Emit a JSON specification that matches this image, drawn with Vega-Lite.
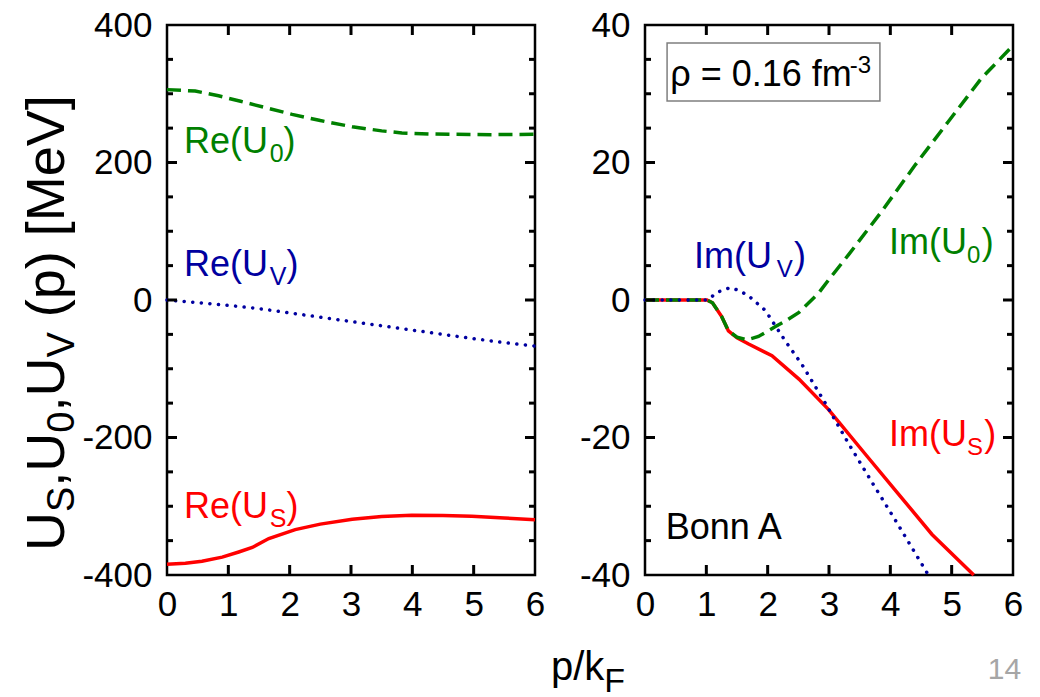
{
  "$schema": "https://vega.github.io/schema/vega-lite/v6.json",
  "background": "white",
  "autosize": {"type": "pad"},
  "padding": {"left": 19, "top": 6, "right": 5, "bottom": 5},
  "config": {
    "view": {"stroke": "black", "strokeWidth": 2.5},
    "font": "Liberation Sans",
    "axis": {
      "domain": false,
      "grid": false,
      "ticks": false,
      "tickSize": 0,
      "labelColor": "black",
      "labelFont": "Liberation Sans",
      "labelFontSize": 35,
      "labelFlush": false,
      "labelExpr": "datum.value",
      "title": null
    }
  },
  "datasets": {
    "re": [
      {"s": "US", "p": 0, "u": -384.5}, {"s": "US", "p": 0.3, "u": -383}, {"s": "US", "p": 0.57, "u": -380},
      {"s": "US", "p": 0.9, "u": -374}, {"s": "US", "p": 1.17, "u": -366.5}, {"s": "US", "p": 1.39, "u": -360},
      {"s": "US", "p": 1.66, "u": -347}, {"s": "US", "p": 2.09, "u": -334}, {"s": "US", "p": 2.5, "u": -326},
      {"s": "US", "p": 3.02, "u": -319}, {"s": "US", "p": 3.5, "u": -315}, {"s": "US", "p": 3.99, "u": -313},
      {"s": "US", "p": 4.5, "u": -313.5}, {"s": "US", "p": 4.97, "u": -314.5}, {"s": "US", "p": 5.5, "u": -317},
      {"s": "US", "p": 6, "u": -319.5},
      {"s": "U0", "p": 0, "u": 306}, {"s": "U0", "p": 0.46, "u": 304}, {"s": "U0", "p": 0.84, "u": 297},
      {"s": "U0", "p": 1.2, "u": 289}, {"s": "U0", "p": 1.6, "u": 280}, {"s": "U0", "p": 2.04, "u": 270},
      {"s": "U0", "p": 2.5, "u": 261}, {"s": "U0", "p": 3.02, "u": 252}, {"s": "U0", "p": 3.5, "u": 246},
      {"s": "U0", "p": 3.83, "u": 243}, {"s": "U0", "p": 4.3, "u": 241.5}, {"s": "U0", "p": 4.65, "u": 241},
      {"s": "U0", "p": 5.3, "u": 240.5}, {"s": "U0", "p": 6, "u": 241},
      {"s": "UV", "p": 0, "u": 0}, {"s": "UV", "p": 0.5, "u": -3.8}, {"s": "UV", "p": 1, "u": -7.8},
      {"s": "UV", "p": 1.5, "u": -12.5}, {"s": "UV", "p": 2, "u": -18.8}, {"s": "UV", "p": 2.5, "u": -25},
      {"s": "UV", "p": 3, "u": -31.3}, {"s": "UV", "p": 3.5, "u": -37.5}, {"s": "UV", "p": 4, "u": -43.8},
      {"s": "UV", "p": 4.5, "u": -50}, {"s": "UV", "p": 5, "u": -56.3}, {"s": "UV", "p": 5.5, "u": -62},
      {"s": "UV", "p": 6, "u": -67}
    ],
    "im": [
      {"s": "US", "p": 0, "u": 0}, {"s": "US", "p": 1.01, "u": 0}, {"s": "US", "p": 1.1, "u": -0.4},
      {"s": "US", "p": 1.25, "u": -2.4}, {"s": "US", "p": 1.36, "u": -4.5}, {"s": "US", "p": 1.5, "u": -5.5},
      {"s": "US", "p": 1.69, "u": -6.4}, {"s": "US", "p": 2.07, "u": -8.1}, {"s": "US", "p": 2.51, "u": -11.5},
      {"s": "US", "p": 2.99, "u": -15.9}, {"s": "US", "p": 3.59, "u": -22.4}, {"s": "US", "p": 4.14, "u": -28.3},
      {"s": "US", "p": 4.68, "u": -34.1}, {"s": "US", "p": 5.36, "u": -40},
      {"s": "U0", "p": 0, "u": 0}, {"s": "U0", "p": 1.01, "u": 0}, {"s": "U0", "p": 1.1, "u": -0.4},
      {"s": "U0", "p": 1.25, "u": -2.4}, {"s": "U0", "p": 1.36, "u": -4.5}, {"s": "U0", "p": 1.5, "u": -5.4},
      {"s": "U0", "p": 1.66, "u": -5.8}, {"s": "U0", "p": 1.85, "u": -5.3}, {"s": "U0", "p": 2.12, "u": -3.9},
      {"s": "U0", "p": 2.3, "u": -3.0}, {"s": "U0", "p": 2.51, "u": -1.8}, {"s": "U0", "p": 2.83, "u": 1.0},
      {"s": "U0", "p": 3.0, "u": 3.0}, {"s": "U0", "p": 3.32, "u": 6.6}, {"s": "U0", "p": 3.86, "u": 12.9},
      {"s": "U0", "p": 4.41, "u": 19.7}, {"s": "U0", "p": 4.95, "u": 26.0}, {"s": "U0", "p": 5.49, "u": 32.3},
      {"s": "U0", "p": 6, "u": 37.0},
      {"s": "UV", "p": 0, "u": 0}, {"s": "UV", "p": 1.01, "u": 0}, {"s": "UV", "p": 1.2, "u": 1.2},
      {"s": "UV", "p": 1.39, "u": 1.8}, {"s": "UV", "p": 1.53, "u": 1.4}, {"s": "UV", "p": 1.69, "u": 0.6},
      {"s": "UV", "p": 1.96, "u": -1.5}, {"s": "UV", "p": 2.29, "u": -6.0}, {"s": "UV", "p": 2.56, "u": -9.4},
      {"s": "UV", "p": 2.94, "u": -15.0}, {"s": "UV", "p": 3.32, "u": -20.9}, {"s": "UV", "p": 3.7, "u": -26.5},
      {"s": "UV", "p": 4.08, "u": -32.0}, {"s": "UV", "p": 4.62, "u": -40}
    ],
    "ticksRe": [
      {"axis": "y", "kind": "major", "v": -200}, {"axis": "y", "kind": "major", "v": 0}, {"axis": "y", "kind": "major", "v": 200},
      {"axis": "y", "kind": "minor", "v": -350}, {"axis": "y", "kind": "minor", "v": -300}, {"axis": "y", "kind": "minor", "v": -250},
      {"axis": "y", "kind": "minor", "v": -150}, {"axis": "y", "kind": "minor", "v": -100}, {"axis": "y", "kind": "minor", "v": -50},
      {"axis": "y", "kind": "minor", "v": 50}, {"axis": "y", "kind": "minor", "v": 100}, {"axis": "y", "kind": "minor", "v": 150},
      {"axis": "y", "kind": "minor", "v": 250}, {"axis": "y", "kind": "minor", "v": 300}, {"axis": "y", "kind": "minor", "v": 350},
      {"axis": "x", "kind": "major", "v": 1}, {"axis": "x", "kind": "major", "v": 2}, {"axis": "x", "kind": "major", "v": 3},
      {"axis": "x", "kind": "major", "v": 4}, {"axis": "x", "kind": "major", "v": 5}
    ],
    "ticksIm": [
      {"axis": "y", "kind": "major", "v": -20}, {"axis": "y", "kind": "major", "v": 0}, {"axis": "y", "kind": "major", "v": 20},
      {"axis": "y", "kind": "minor", "v": -35}, {"axis": "y", "kind": "minor", "v": -30}, {"axis": "y", "kind": "minor", "v": -25},
      {"axis": "y", "kind": "minor", "v": -15}, {"axis": "y", "kind": "minor", "v": -10}, {"axis": "y", "kind": "minor", "v": -5},
      {"axis": "y", "kind": "minor", "v": 5}, {"axis": "y", "kind": "minor", "v": 10}, {"axis": "y", "kind": "minor", "v": 15},
      {"axis": "y", "kind": "minor", "v": 25}, {"axis": "y", "kind": "minor", "v": 30}, {"axis": "y", "kind": "minor", "v": 35},
      {"axis": "x", "kind": "major", "v": 1}, {"axis": "x", "kind": "major", "v": 2}, {"axis": "x", "kind": "major", "v": 3},
      {"axis": "x", "kind": "major", "v": 4}, {"axis": "x", "kind": "major", "v": 5}
    ],
    "reText": [
      {"s": "U0", "part": "main", "t": "Re(U", "p": 0.277, "u": 214},
      {"s": "U0", "part": "sub", "t": "0", "p": 1.676, "u": 214},
      {"s": "U0", "part": "main", "t": ")", "p": 1.9, "u": 214},
      {"s": "UV", "part": "main", "t": "Re(U", "p": 0.277, "u": 35},
      {"s": "UV", "part": "sub", "t": "V", "p": 1.676, "u": 35},
      {"s": "UV", "part": "main", "t": ")", "p": 1.95, "u": 35},
      {"s": "US", "part": "main", "t": "Re(U", "p": 0.277, "u": -317},
      {"s": "US", "part": "sub", "t": "S", "p": 1.676, "u": -317},
      {"s": "US", "part": "main", "t": ")", "p": 1.95, "u": -317}
    ],
    "axisText": [
      {"part": "ymain", "t": "U", "p": -1.68, "u": -365.1},
      {"part": "ysub", "t": "S", "p": -1.68, "u": -308.4},
      {"part": "ymain", "t": ",U", "p": -1.68, "u": -271.6},
      {"part": "ysub", "t": "0", "p": -1.68, "u": -193.1},
      {"part": "ymain", "t": ",U", "p": -1.68, "u": -162.3},
      {"part": "ysub", "t": "V", "p": -1.68, "u": -83.8},
      {"part": "ymain", "t": "(p) [MeV]", "p": -1.68, "u": -25.2},
      {"part": "xmain", "t": "p/k", "p": 6.26, "u": -552.7},
      {"part": "xsub", "t": "F", "p": 7.13, "u": -552.7}
    ],
    "imText": [
      {"s": "UV", "part": "main", "t": "Im(U", "p": 0.8, "u": 4.7},
      {"s": "UV", "part": "sub", "t": "V", "p": 2.15, "u": 4.7},
      {"s": "UV", "part": "main", "t": ")", "p": 2.43, "u": 4.7},
      {"s": "U0", "part": "main", "t": "Im(U", "p": 3.98, "u": 6.65},
      {"s": "U0", "part": "sub", "t": "0", "p": 5.25, "u": 6.65},
      {"s": "U0", "part": "main", "t": ")", "p": 5.49, "u": 6.65},
      {"s": "US", "part": "main", "t": "Im(U", "p": 3.98, "u": -21.2},
      {"s": "US", "part": "sub", "t": "S", "p": 5.25, "u": -21.2},
      {"s": "US", "part": "main", "t": ")", "p": 5.53, "u": -21.2},
      {"s": "plain", "part": "main", "t": "Bonn A", "p": 0.337, "u": -34.8},
      {"s": "plain", "part": "main", "t": "ρ = 0.16 fm", "p": 0.41, "u": 31.13},
      {"s": "plain", "part": "sup", "t": "-3", "p": 3.34, "u": 31.13},
      {"s": "page", "part": "page", "t": "14", "p": 5.59, "u": -55.1}
    ],
    "box": [{"x1": 0.36, "x2": 3.83, "y1": 37.4, "y2": 28.95}]
  },
  "bounds": "flush",
  "spacing": 110,
  "resolve": {"scale": {"x": "independent", "y": "independent"}},
  "hconcat": [
    {
      "width": 368,
      "height": 550,
      "layer": [
        {
          "data": {"name": "re"},
          "transform": [{"filter": "datum.s === 'US'"}],
          "mark": {"type": "line", "color": "#ff0000", "strokeWidth": 3.5},
          "encoding": {
            "x": {"field": "p", "type": "quantitative", "scale": {"domain": [0, 6], "nice": false, "zero": false},
                  "axis": {"orient": "bottom", "values": [0, 1, 2, 3, 4, 5, 6], "labelPadding": 12}},
            "y": {"field": "u", "type": "quantitative", "scale": {"domain": [-400, 400], "nice": false, "zero": false},
                  "axis": {"orient": "left", "values": [-400, -200, 0, 200, 400], "labelPadding": 15}}
          }
        },
        {
          "data": {"name": "re"},
          "transform": [{"filter": "datum.s === 'U0'"}],
          "mark": {"type": "line", "color": "#008000", "strokeWidth": 3.5, "strokeDash": [14, 7]},
          "encoding": {
            "x": {"field": "p", "type": "quantitative"},
            "y": {"field": "u", "type": "quantitative"}
          }
        },
        {
          "data": {"name": "re"},
          "transform": [{"filter": "datum.s === 'UV'"}],
          "mark": {"type": "line", "color": "#0000a0", "strokeWidth": 3.5, "strokeDash": [0.1, 8.5], "strokeCap": "round"},
          "encoding": {
            "x": {"field": "p", "type": "quantitative"},
            "y": {"field": "u", "type": "quantitative"}
          }
        },
        {
          "data": {"name": "ticksRe"},
          "transform": [{"filter": "datum.axis === 'y' && datum.kind === 'major'"}],
          "mark": {"type": "tick", "color": "black", "opacity": 1, "orient": "horizontal", "thickness": 3, "size": 10},
          "encoding": {"y": {"field": "v", "type": "quantitative"}, "x": {"datum": 0.0815}}
        },
        {
          "data": {"name": "ticksRe"},
          "transform": [{"filter": "datum.axis === 'y' && datum.kind === 'major'"}],
          "mark": {"type": "tick", "color": "black", "opacity": 1, "orient": "horizontal", "thickness": 3, "size": 10},
          "encoding": {"y": {"field": "v", "type": "quantitative"}, "x": {"datum": 5.9185}}
        },
        {
          "data": {"name": "ticksRe"},
          "transform": [{"filter": "datum.axis === 'y' && datum.kind === 'minor'"}],
          "mark": {"type": "tick", "color": "black", "opacity": 1, "orient": "horizontal", "thickness": 3, "size": 6},
          "encoding": {"y": {"field": "v", "type": "quantitative"}, "x": {"datum": 0.049}}
        },
        {
          "data": {"name": "ticksRe"},
          "transform": [{"filter": "datum.axis === 'y' && datum.kind === 'minor'"}],
          "mark": {"type": "tick", "color": "black", "opacity": 1, "orient": "horizontal", "thickness": 3, "size": 6},
          "encoding": {"y": {"field": "v", "type": "quantitative"}, "x": {"datum": 5.951}}
        },
        {
          "data": {"name": "ticksRe"},
          "transform": [{"filter": "datum.axis === 'x'"}],
          "mark": {"type": "tick", "color": "black", "opacity": 1, "orient": "vertical", "thickness": 3, "size": 10},
          "encoding": {"x": {"field": "v", "type": "quantitative"}, "y": {"datum": -392.7}}
        },
        {
          "data": {"name": "ticksRe"},
          "transform": [{"filter": "datum.axis === 'x'"}],
          "mark": {"type": "tick", "color": "black", "opacity": 1, "orient": "vertical", "thickness": 3, "size": 10},
          "encoding": {"x": {"field": "v", "type": "quantitative"}, "y": {"datum": 392.7}}
        },
        {
          "data": {"name": "reText"},
          "transform": [{"filter": "datum.part === 'main'"}],
          "mark": {"type": "text", "align": "left", "baseline": "alphabetic", "fontSize": 36},
          "encoding": {
            "x": {"field": "p", "type": "quantitative"},
            "y": {"field": "u", "type": "quantitative"},
            "text": {"field": "t"},
            "color": {"field": "s", "type": "nominal", "legend": null,
                      "scale": {"domain": ["US", "U0", "UV", "plain", "page"], "range": ["#ff0000", "#008000", "#0000a0", "#000000", "#a6a6a6"]}}
          }
        },
        {
          "data": {"name": "reText"},
          "transform": [{"filter": "datum.part === 'sub'"}],
          "mark": {"type": "text", "align": "left", "baseline": "alphabetic", "fontSize": 25, "dy": 9},
          "encoding": {
            "x": {"field": "p", "type": "quantitative"},
            "y": {"field": "u", "type": "quantitative"},
            "text": {"field": "t"},
            "color": {"field": "s", "type": "nominal", "legend": null}
          }
        },
        {
          "data": {"name": "axisText"},
          "transform": [{"filter": "datum.part === 'ymain'"}],
          "mark": {"type": "text", "align": "left", "baseline": "alphabetic", "fontSize": 54, "angle": 270, "color": "black"},
          "encoding": {
            "x": {"field": "p", "type": "quantitative"},
            "y": {"field": "u", "type": "quantitative"},
            "text": {"field": "t"}
          }
        },
        {
          "data": {"name": "axisText"},
          "transform": [{"filter": "datum.part === 'ysub'"}],
          "mark": {"type": "text", "align": "left", "baseline": "alphabetic", "fontSize": 38, "angle": 270, "dy": 10, "color": "black"},
          "encoding": {
            "x": {"field": "p", "type": "quantitative"},
            "y": {"field": "u", "type": "quantitative"},
            "text": {"field": "t"}
          }
        },
        {
          "data": {"name": "axisText"},
          "transform": [{"filter": "datum.part === 'xmain'"}],
          "mark": {"type": "text", "align": "left", "baseline": "alphabetic", "fontSize": 40, "color": "black"},
          "encoding": {
            "x": {"field": "p", "type": "quantitative"},
            "y": {"field": "u", "type": "quantitative"},
            "text": {"field": "t"}
          }
        },
        {
          "data": {"name": "axisText"},
          "transform": [{"filter": "datum.part === 'xsub'"}],
          "mark": {"type": "text", "align": "left", "baseline": "alphabetic", "fontSize": 34, "dy": 12, "color": "black"},
          "encoding": {
            "x": {"field": "p", "type": "quantitative"},
            "y": {"field": "u", "type": "quantitative"},
            "text": {"field": "t"}
          }
        }
      ]
    },
    {
      "width": 368,
      "height": 550,
      "layer": [
        {
          "data": {"name": "box"},
          "mark": {"type": "rect", "fill": "white", "stroke": "#7f7f7f", "strokeWidth": 1.5},
          "encoding": {
            "x": {"field": "x1", "type": "quantitative", "scale": {"domain": [0, 6], "nice": false, "zero": false},
                  "axis": {"orient": "bottom", "values": [0, 1, 2, 3, 4, 5, 6], "labelPadding": 12}},
            "x2": {"field": "x2"},
            "y": {"field": "y1", "type": "quantitative", "scale": {"domain": [-40, 40], "nice": false, "zero": false},
                  "axis": {"orient": "left", "values": [-40, -20, 0, 20, 40], "labelPadding": 15}},
            "y2": {"field": "y2"}
          }
        },
        {
          "data": {"name": "im"},
          "transform": [{"filter": "datum.s === 'US'"}],
          "mark": {"type": "line", "color": "#ff0000", "strokeWidth": 3.5},
          "encoding": {
            "x": {"field": "p", "type": "quantitative"},
            "y": {"field": "u", "type": "quantitative"}
          }
        },
        {
          "data": {"name": "im"},
          "transform": [{"filter": "datum.s === 'U0'"}],
          "mark": {"type": "line", "color": "#008000", "strokeWidth": 3.5, "strokeDash": [14, 7]},
          "encoding": {
            "x": {"field": "p", "type": "quantitative"},
            "y": {"field": "u", "type": "quantitative"}
          }
        },
        {
          "data": {"name": "im"},
          "transform": [{"filter": "datum.s === 'UV'"}],
          "mark": {"type": "line", "color": "#0000a0", "strokeWidth": 3.5, "strokeDash": [0.1, 8.5], "strokeCap": "round"},
          "encoding": {
            "x": {"field": "p", "type": "quantitative"},
            "y": {"field": "u", "type": "quantitative"}
          }
        },
        {
          "data": {"name": "ticksIm"},
          "transform": [{"filter": "datum.axis === 'y' && datum.kind === 'major'"}],
          "mark": {"type": "tick", "color": "black", "opacity": 1, "orient": "horizontal", "thickness": 3, "size": 10},
          "encoding": {"y": {"field": "v", "type": "quantitative"}, "x": {"datum": 0.0815}}
        },
        {
          "data": {"name": "ticksIm"},
          "transform": [{"filter": "datum.axis === 'y' && datum.kind === 'major'"}],
          "mark": {"type": "tick", "color": "black", "opacity": 1, "orient": "horizontal", "thickness": 3, "size": 10},
          "encoding": {"y": {"field": "v", "type": "quantitative"}, "x": {"datum": 5.9185}}
        },
        {
          "data": {"name": "ticksIm"},
          "transform": [{"filter": "datum.axis === 'y' && datum.kind === 'minor'"}],
          "mark": {"type": "tick", "color": "black", "opacity": 1, "orient": "horizontal", "thickness": 3, "size": 6},
          "encoding": {"y": {"field": "v", "type": "quantitative"}, "x": {"datum": 0.049}}
        },
        {
          "data": {"name": "ticksIm"},
          "transform": [{"filter": "datum.axis === 'y' && datum.kind === 'minor'"}],
          "mark": {"type": "tick", "color": "black", "opacity": 1, "orient": "horizontal", "thickness": 3, "size": 6},
          "encoding": {"y": {"field": "v", "type": "quantitative"}, "x": {"datum": 5.951}}
        },
        {
          "data": {"name": "ticksIm"},
          "transform": [{"filter": "datum.axis === 'x'"}],
          "mark": {"type": "tick", "color": "black", "opacity": 1, "orient": "vertical", "thickness": 3, "size": 10},
          "encoding": {"x": {"field": "v", "type": "quantitative"}, "y": {"datum": -39.27}}
        },
        {
          "data": {"name": "ticksIm"},
          "transform": [{"filter": "datum.axis === 'x'"}],
          "mark": {"type": "tick", "color": "black", "opacity": 1, "orient": "vertical", "thickness": 3, "size": 10},
          "encoding": {"x": {"field": "v", "type": "quantitative"}, "y": {"datum": 39.27}}
        },
        {
          "data": {"name": "imText"},
          "transform": [{"filter": "datum.part === 'main'"}],
          "mark": {"type": "text", "align": "left", "baseline": "alphabetic", "fontSize": 36},
          "encoding": {
            "x": {"field": "p", "type": "quantitative"},
            "y": {"field": "u", "type": "quantitative"},
            "text": {"field": "t"},
            "color": {"field": "s", "type": "nominal", "legend": null}
          }
        },
        {
          "data": {"name": "imText"},
          "transform": [{"filter": "datum.part === 'sub'"}],
          "mark": {"type": "text", "align": "left", "baseline": "alphabetic", "fontSize": 24, "dy": 9},
          "encoding": {
            "x": {"field": "p", "type": "quantitative"},
            "y": {"field": "u", "type": "quantitative"},
            "text": {"field": "t"},
            "color": {"field": "s", "type": "nominal", "legend": null}
          }
        },
        {
          "data": {"name": "imText"},
          "transform": [{"filter": "datum.part === 'sup'"}],
          "mark": {"type": "text", "align": "left", "baseline": "alphabetic", "fontSize": 24, "dy": -13},
          "encoding": {
            "x": {"field": "p", "type": "quantitative"},
            "y": {"field": "u", "type": "quantitative"},
            "text": {"field": "t"},
            "color": {"field": "s", "type": "nominal", "legend": null}
          }
        },
        {
          "data": {"name": "imText"},
          "transform": [{"filter": "datum.part === 'page'"}],
          "mark": {"type": "text", "align": "left", "baseline": "alphabetic", "fontSize": 30},
          "encoding": {
            "x": {"field": "p", "type": "quantitative"},
            "y": {"field": "u", "type": "quantitative"},
            "text": {"field": "t"},
            "color": {"field": "s", "type": "nominal", "legend": null}
          }
        }
      ]
    }
  ]
}
